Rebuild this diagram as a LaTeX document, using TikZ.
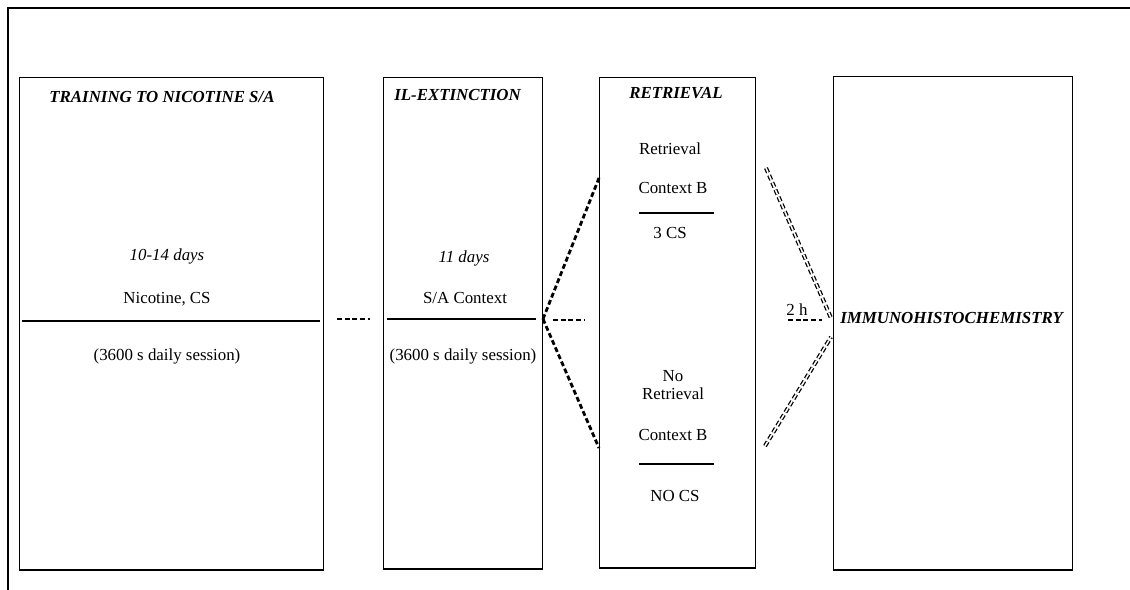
\documentclass[tikz,border=0pt]{standalone}
\usepackage{fontspec}
\setmainfont{Liberation Serif}
\usepackage{tikz}
\tikzstyle{every node}=[font=\fontsize{12}{14}\selectfont]

\begin{document}
\begin{tikzpicture}[line cap=butt,line join=miter,x=0.025cm,y=-0.025cm,
  phase/.style={draw,line width=1pt,anchor=north west,inner sep=0pt},
  ttl/.style={font=\fontsize{12}{14}\selectfont\bfseries\itshape},
  txt/.style={inner sep=1pt},
  gap/.style={line width=2pt,dash pattern=on 3.5pt off 2pt},
  hollow/.style={line width=0.9pt,double,double distance=1.1pt,dash pattern=on 3.6pt off 2pt}]
            \useasboundingbox (0,0) rectangle (1130,590);
            \draw [line width=1.2pt] (8,590) -- (8,8) -- (1130,8);
            \node [phase,minimum width=7.6cm,minimum height=12.3cm] (train) at (19,77) {};
            \node [phase,minimum width=3.975cm,minimum height=12.275cm] (ext) at (383,77) {};
            \node [phase,minimum width=3.9cm,minimum height=12.25cm] (retr) at (599,77) {};
            \node [phase,minimum width=5.975cm,minimum height=12.325cm] (immuno) at (833,76) {};
            % training
            \node [ttl] (trainT) at (162,97) {TRAINING TO NICOTINE S/A};
            \node [txt,font=\fontsize{12}{14}\selectfont\itshape] (trainD) at (167,256) {10-14 days};
            \node [txt] (trainC) at (167,299) {Nicotine, CS};
            \node [txt] (trainS) at (167,356) {(3600 s daily session)};
            \draw [line width=1pt] (22,321) -- (320,321);
            % extinction
            \node [ttl,anchor=west,inner sep=0pt] (extT) at (394,95) {IL-EXTINCTION};
            \node [txt,font=\fontsize{12}{14}\selectfont\itshape] (extD) at (464,258) {11 days};
            \node [txt] (extC) at (465,298) {S/A Context};
            \node [txt] (extS) at (463,356) {(3600 s daily session)};
            \draw [line width=1pt] (387,319) -- (536,319);
            % retrieval
            \node [ttl] (retrT) at (676,93) {RETRIEVAL};
            \node [txt] (retA) at (670,149) {Retrieval};
            \node [txt] (ctxA) at (673,188) {Context B};
            \draw [line width=1pt] (639,213) -- (714,213);
            \node [txt] (csA) at (670,233) {3 CS};
            \node [txt,align=center] (retB) at (673,385) {No\\[-1pt]Retrieval};
            \node [txt] (ctxB) at (673,435) {Context B};
            \draw [line width=1pt] (639,464) -- (714,464);
            \node [txt] (csB) at (675,496) {NO CS};
            % immuno
            \node [ttl,anchor=west,inner sep=0pt] (immunoT) at (840,318) {IMMUNOHISTOCHEMISTRY};
            \node [txt] (hrs) at (797,310) {2 h};
            % connectors
            \coordinate (gapL) at (337,319);
            \coordinate (gapR) at (370,319);
            \coordinate (fork) at (543,319);
            \coordinate (upIn) at (599,178);
            \coordinate (loIn) at (599,448);
            \coordinate (midL) at (553,320);
            \coordinate (midR) at (585,320);
            \coordinate (upOut) at (766,168);
            \coordinate (loOut) at (765,446);
            \coordinate (joinU) at (831,318);
            \coordinate (joinL) at (831,337);
            \coordinate (hrsL) at (788,320);
            \coordinate (hrsR) at (822,320);
            \draw [gap] (gapL) -- (gapR);
            \draw [gap] (fork) -- (upIn);
            \draw [gap] (fork) -- (loIn);
            \draw [gap] (midL) -- (midR);
            \draw [gap] (hrsL) -- (hrsR);
            \draw [hollow] (upOut) -- (joinU);
            \draw [hollow] (loOut) -- (joinL);
\end{tikzpicture}
\end{document}
